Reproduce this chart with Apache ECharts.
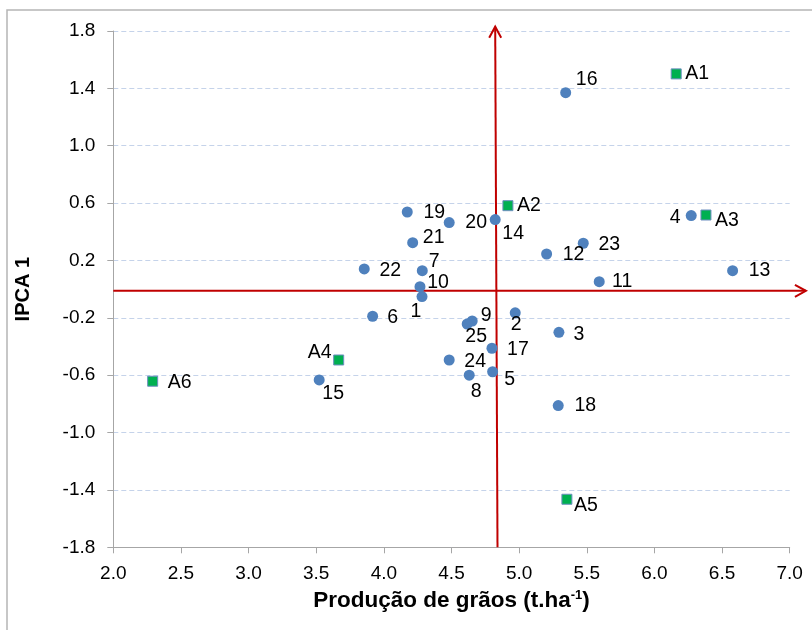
<!DOCTYPE html>
<html>
<head>
<meta charset="utf-8">
<script src="https://cdn.jsdelivr.net/npm/echarts@6/dist/echarts.min.js"></script>
<style>
html,body{margin:0;padding:0;background:#fff;}
#chart{width:812px;height:630px;}
</style>
</head>
<body>
<div id="chart"></div>
<script>
// ---- data ----
const genotypes = ['1','2','3','4','5','6','7','8','9','10','11','12','13','14','15','16','17','18','19','20','21','22','23','24','25'];
const genoX = [4.282,4.971,5.294,6.272,4.804,3.917,4.284,4.631,4.653,4.267,5.592,5.203,6.578,4.823,3.522,5.344,4.799,5.289,4.173,4.483,4.213,3.855,5.474,4.483,4.616];
const genoY = [-0.052,-0.165,-0.301,0.513,-0.576,-0.189,0.129,-0.600,-0.222,0.017,0.052,0.245,0.129,0.485,-0.633,1.370,-0.412,-0.812,0.538,0.464,0.324,0.141,0.320,-0.494,-0.243];
const envs = ['A1','A2','A3','A4','A5','A6'];
const envX = [6.161,4.917,6.381,3.666,5.353,2.291];
const envY = [1.501,0.582,0.517,-0.494,-1.465,-0.642];
const xTicks = ['2.0','2.5','3.0','3.5','4.0','4.5','5.0','5.5','6.0','6.5','7.0'];
const yTicks = ['-1.8','-1.4','-1.0','-0.6','-0.2','0.2','0.6','1.0','1.4','1.8'];
// reference (mean) lines
const hLine = {y: -0.012, x0: 2.0, x1: 7.12};
const vLine = {x0: 4.84, y0: -1.8, x1: 4.823, y1: 1.83};

// ---- layout of labels (pixel offsets from marker centre) ----
const labelOffsets = {
  '1':[-6,15],'2':[1,12],'3':[20,2],'4':[-16,2],'5':[17,8],'6':[20,1],'7':[12,-9],'8':[7,16],
  '9':[14,-5],'10':[18,-4],'11':[23,0],'12':[27,1],'13':[27,0],'14':[18,14],'15':[14,14],
  '16':[21,-13],'17':[26,1],'18':[27,0],'19':[27,1],'20':[27,0],'21':[21,-5],'22':[26,2],
  '23':[26,1],'24':[26,2],'25':[9,13],
  'A1':[21,0],'A2':[21,0],'A3':[21,6],'A4':[-19,-7],'A5':[19,6],'A6':[27,1]
};

const FONT = "'Liberation Sans', Arial, sans-serif";
const RED = '#c00000';

function items(names, xs, ys) {
  return names.map((n, i) => ({
    name: n,
    value: [xs[i], ys[i]],
    label: {offset: labelOffsets[n] || [20, 0]}
  }));
}

const chart = echarts.init(document.getElementById('chart'), null, {renderer: 'canvas'});
const baseLabel = {
  show: true, position: 'inside', align: 'center', verticalAlign: 'middle',
  formatter: p => p.name, color: '#000', fontSize: 19.5, fontFamily: FONT
};

chart.setOption({
  animation: false,
  backgroundColor: '#fff',
  grid: {left: 113.3, right: 22.3, top: 31, bottom: 82.7, containLabel: false},
  xAxis: {
    type: 'value', min: 2, max: 7, interval: 0.5,
    axisLine: {show: true, onZero: false, lineStyle: {color: '#a6a6a6', width: 1}},
    axisTick: {show: true, length: 6, lineStyle: {color: '#a6a6a6'}},
    splitLine: {show: false},
    axisLabel: {
      margin: 17, color: '#000', fontSize: 19, fontFamily: FONT,
      formatter: v => xTicks[Math.round((v - 2) / 0.5)]
    },
    name: '{a|Produção de grãos (t.ha}{sup|-1}{a|)}',
    nameLocation: 'middle', nameGap: 42,
    nameTextStyle: {
      rich: {
        a: {fontSize: 22.5, fontWeight: 'bold', fontFamily: FONT, color: '#000'},
        sup: {fontSize: 13, fontWeight: 'bold', fontFamily: FONT, color: '#000', verticalAlign: 'top', padding: [0, 0, 10, 0]}
      }
    }
  },
  yAxis: {
    type: 'value', min: -1.8, max: 1.8, interval: 0.4,
    axisLine: {show: true, onZero: false, lineStyle: {color: '#a6a6a6', width: 1}},
    axisTick: {show: true, length: 6, lineStyle: {color: '#a6a6a6'}},
    splitLine: {show: true, lineStyle: {color: '#c5d3ea', width: 1, type: [5, 3]}},
    axisLabel: {
      margin: 18, color: '#000', fontSize: 19, fontFamily: FONT,
      formatter: v => yTicks[Math.round((v + 1.8) / 0.4)]
    },
    name: 'IPCA 1', nameLocation: 'middle', nameGap: 80, nameRotate: 90,
    nameTextStyle: {fontSize: 20, fontWeight: 'bold', fontFamily: FONT, color: '#000'}
  },
  series: [
    {
      name: 'Genótipos', type: 'scatter', symbol: 'circle', symbolSize: 11,
      itemStyle: {color: '#4f81bd', opacity: 1},
      label: baseLabel,
      data: items(genotypes, genoX, genoY), z: 3
    },
    {
      name: 'Ambientes', type: 'scatter', symbol: 'rect', symbolSize: 10,
      itemStyle: {color: '#00b050', borderColor: '#6c8ebf', borderWidth: 1, opacity: 1},
      label: baseLabel,
      data: items(envs, envX, envY), z: 4
    }
  ]
});

function px(x, y) { return chart.convertToPixel({gridIndex: 0}, [x, y]); }
const h0 = px(hLine.x0, hLine.y), h1 = px(hLine.x1, hLine.y);
const v0 = px(vLine.x0, vLine.y0), v1 = px(vLine.x1, vLine.y1);
const lineStyle = {stroke: RED, lineWidth: 2, fill: null};

chart.setOption({
  graphic: [
    {type: 'rect', shape: {x: 7, y: 10, width: 900, height: 900}, style: {stroke: '#b5b5b5', lineWidth: 1.5, fill: null}, silent: true, z: 0},
    {type: 'line', shape: {x1: h0[0], y1: h0[1], x2: h1[0], y2: h1[1]}, style: lineStyle, z: 1},
    {type: 'polyline', shape: {points: [[h1[0] - 11, h1[1] - 6], [h1[0], h1[1]], [h1[0] - 11, h1[1] + 6]]}, style: lineStyle, z: 1},
    {type: 'line', shape: {x1: v0[0], y1: v0[1], x2: v1[0], y2: v1[1]}, style: lineStyle, z: 1},
    {type: 'polyline', shape: {points: [[v1[0] - 6, v1[1] + 11], [v1[0], v1[1]], [v1[0] + 6, v1[1] + 11]]}, style: lineStyle, z: 1}
  ]
});
</script>
</body>
</html>
